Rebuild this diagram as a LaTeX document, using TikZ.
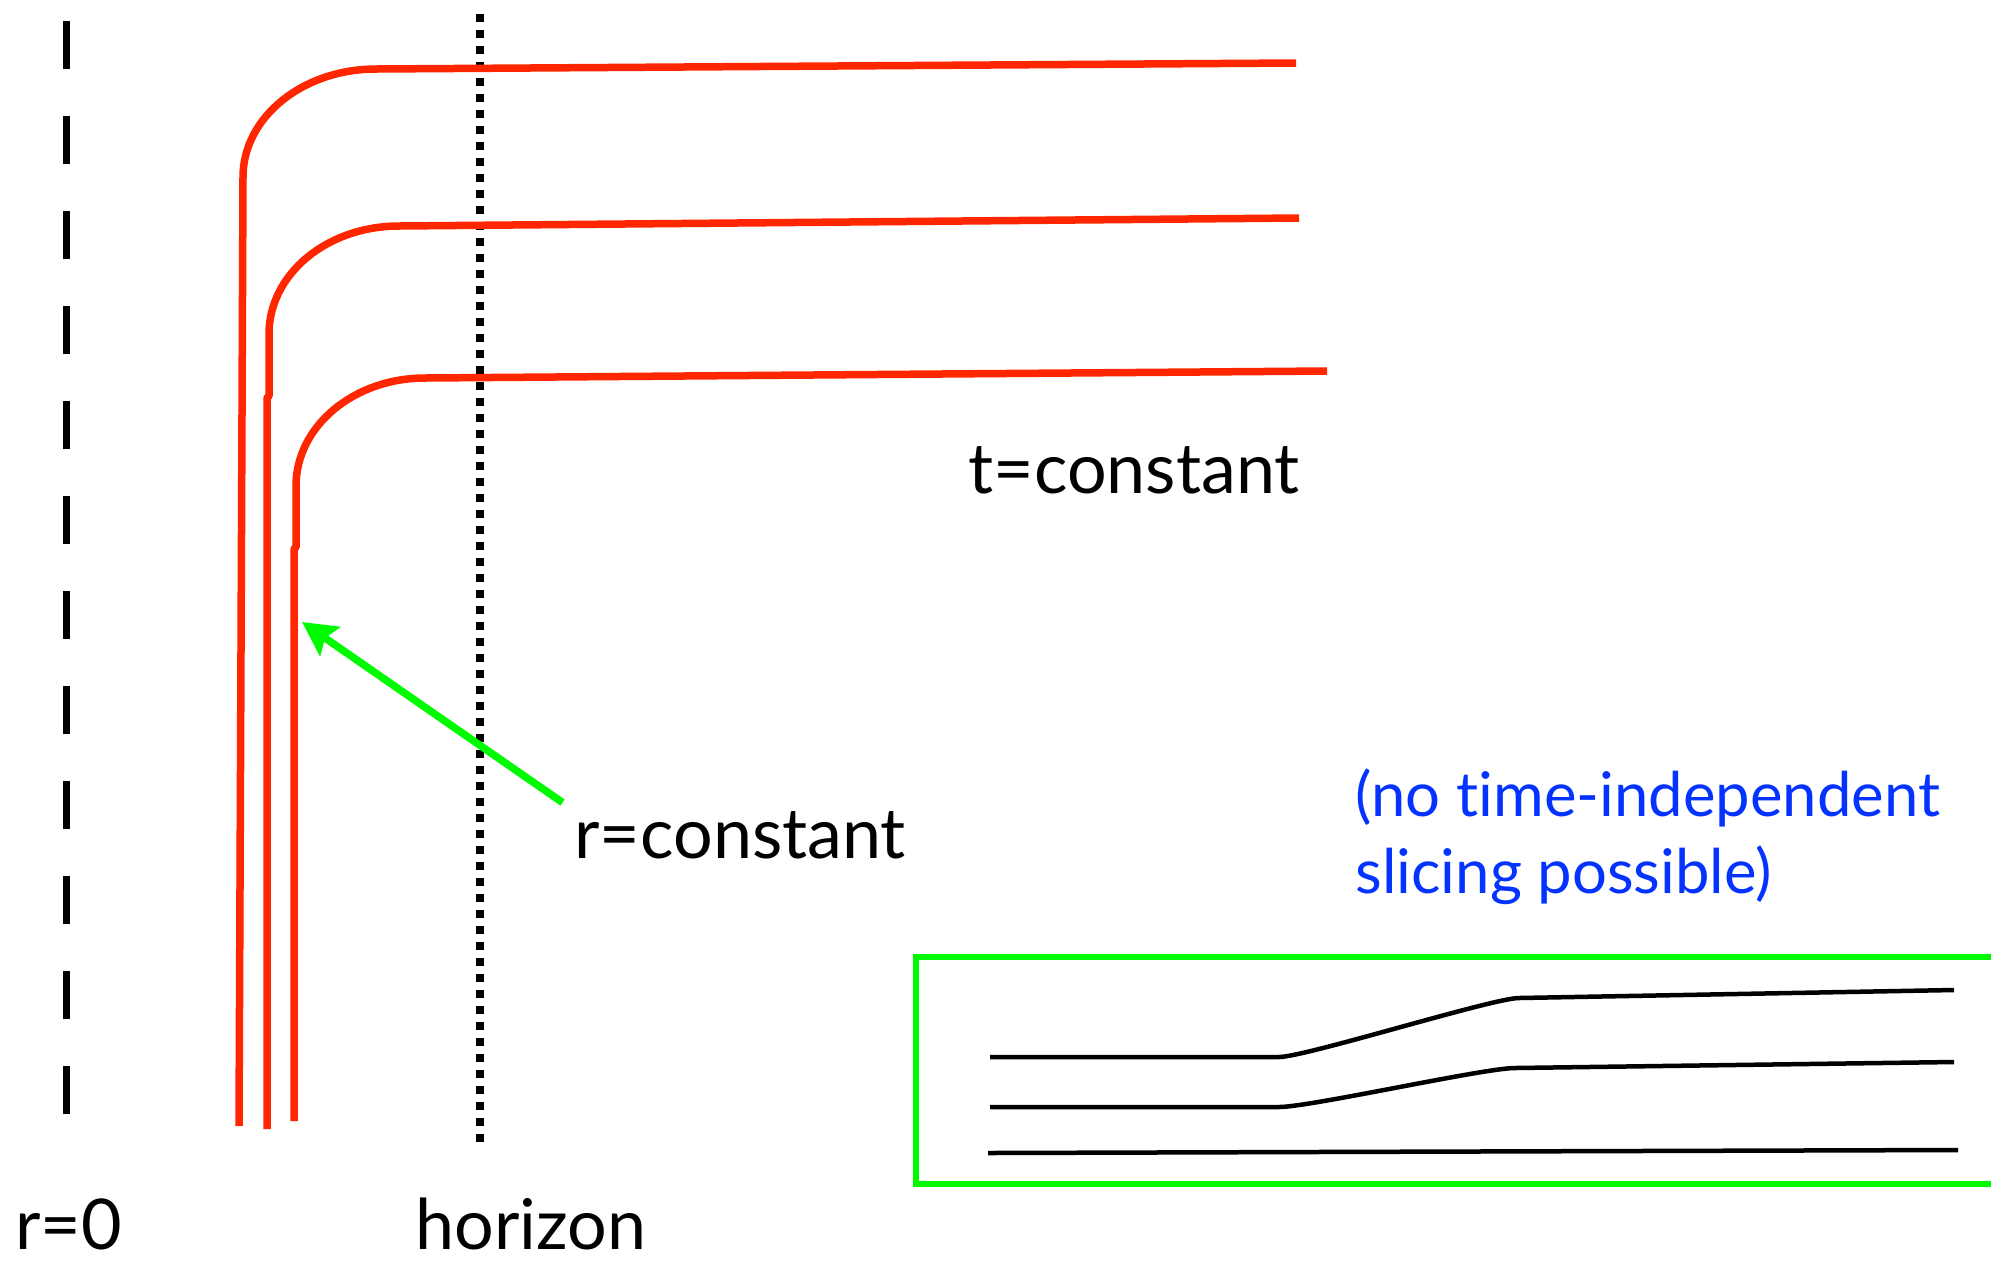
\documentclass[tikz,border=0pt]{standalone}
\usepackage{fontspec}
\setmainfont{Lato}[Ligatures=NoCommon]
\usetikzlibrary{arrows.meta}
\definecolor{kred}{RGB}{255,38,0}
\definecolor{kgreen}{RGB}{0,250,0}
\definecolor{kblue}{RGB}{4,51,255}
\tikzset{
  redline/.style={draw=kred, line width=3.75pt, line join=round},
  axisdash/.style={draw=black, line width=3.5pt, dash pattern=on 23.75pt off 23.75pt},
  horizondots/.style={draw=black, line width=4pt, dash pattern=on 3.75pt off 4.25pt},
  greenarrow/.style={draw=kgreen, line width=3.75pt, -{Stealth[length=17pt, width=17.5pt, inset=3pt]}},
  greenbox/.style={draw=kgreen, line width=3pt},
  slice/.style={draw=black, line width=2.25pt},
  lbl/.style={inner sep=0pt, anchor=base west, font=\fontsize{35}{40}\selectfont},
  bluelbl/.style={inner sep=0pt, anchor=base west, text=kblue, font=\fontsize{30.8}{36}\selectfont}
}
\begin{document}
\begin{tikzpicture}[x=0.5pt, y=-0.5pt]
\useasboundingbox (0,0) rectangle (1991,1260);
\clip (0,0) rectangle (1991,1260);

% r=0 dashed line and horizon dotted line
\coordinate (r0top) at (66,21);
\coordinate (r0bot) at (66,1114);
\draw[axisdash] (r0top) -- (r0bot);
\coordinate (hztop) at (480,14);
\coordinate (hzbot) at (480,1142);
\draw[horizondots] (hztop) -- (hzbot);

% red slices
\draw[redline] (239,1126) -- (243,177) .. controls (243,117) and (303,69) .. (376,69) -- (1296,63);
\draw[redline] (267,1129) -- (267,398) -- (269,396) -- (269,334) .. controls (269,274) and (327,226) .. (399,226) -- (1299,218);
\draw[redline] (294,1121) -- (294,549) -- (296,547) -- (296,486) .. controls (296,426) and (354,378) .. (425,378) -- (1327,371);

% labels
\node[lbl] (tconst) at (968,493) {t=constant};
\node[lbl] (rconst) at (574,858) {r=constant};
\node[lbl] (rzero) at (15,1249) {r=0};
\node[lbl] (horizon) at (415,1249) {horizon};
\node[bluelbl] (blue1) at (1355,816) {(no time-independent};
\node[bluelbl] (blue2) at (1355,893) {slicing possible)};

% green arrow
\coordinate (arrtail) at (562.5,802.5);
\coordinate (arrtip) at (302,622);
\draw[greenarrow] (arrtail) -- (arrtip);

% inset box
\draw[greenbox] (915.5,957) rectangle (2010,1184);
\draw[slice] (990,1057) -- (1279,1057) .. controls (1305,1057) and (1493,998) .. (1519,998) -- (1954,990);
\draw[slice] (990,1107) -- (1279,1107) .. controls (1310,1107) and (1484,1068) .. (1515,1068) -- (1954,1062);
\draw[slice] (988,1153) -- (1958,1150);
\end{tikzpicture}
\end{document}
